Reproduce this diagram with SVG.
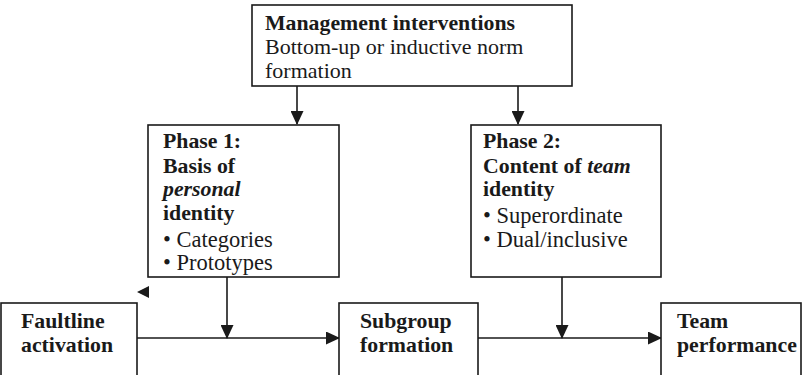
<svg xmlns="http://www.w3.org/2000/svg" width="803" height="375" viewBox="0 0 803 375">
<style>
.box{fill:#fff;stroke:#1a1a1a;stroke-width:1.6}
.t{font-family:"Liberation Serif","Times New Roman",serif;font-size:22.5px;fill:#1a1a1a}
.b{font-weight:bold;font-size:21.8px}
.i{font-style:italic}
.s{font-size:22px}
.c{stroke:#1a1a1a;stroke-width:1.6;fill:none}
</style>
<defs>
<marker id="ah" markerWidth="14" markerHeight="13" refX="13" refY="6.5" orient="auto" markerUnits="userSpaceOnUse">
<path d="M0,0 L14,6.5 L0,13 Z" fill="#1a1a1a"/>
</marker>
</defs>
<rect width="803" height="375" fill="#fff"/>
<g id="connectors">
<line class="c" x1="297" y1="86" x2="297" y2="124" marker-end="url(#ah)"/>
<line class="c" x1="518" y1="86" x2="518" y2="124" marker-end="url(#ah)"/>
<line class="c" x1="137" y1="338" x2="339" y2="338" marker-end="url(#ah)"/>
<line class="c" x1="478" y1="338" x2="661" y2="338" marker-end="url(#ah)"/>
<line class="c" x1="227" y1="277" x2="227" y2="338" marker-end="url(#ah)"/>
<line class="c" x1="562" y1="277" x2="562" y2="338" marker-end="url(#ah)"/>
<path d="M137,292 L149,286 L149,298 Z" fill="#1a1a1a"/>
</g>
<g id="mgmt">
<rect class="box" x="252" y="5" width="320" height="81"/>
<text class="t b" x="265" y="30">Management interventions</text>
<text class="t s" x="265" y="54">Bottom-up or inductive norm</text>
<text class="t s" x="265" y="78">formation</text>
</g>
<g id="phase1">
<rect class="box" x="148" y="125" width="191" height="152"/>
<text class="t b" x="163" y="148">Phase 1:</text>
<text class="t b" x="163" y="173">Basis of</text>
<text class="t b i" x="163" y="196">personal</text>
<text class="t b" x="163" y="220">identity</text>
<text class="t" x="163" y="247">• Categories</text>
<text class="t" x="163" y="270">• Prototypes</text>
</g>
<g id="phase2">
<rect class="box" x="471" y="125" width="190" height="152"/>
<text class="t b" x="483" y="148">Phase 2:</text>
<text class="t b" x="483" y="173">Content of <tspan class="i">team</tspan></text>
<text class="t b" x="483" y="196">identity</text>
<text class="t" x="483" y="223">• Superordinate</text>
<text class="t" x="483" y="247">• Dual/inclusive</text>
</g>
<g id="faultline">
<rect class="box" x="1" y="303" width="136" height="80"/>
<text class="t b" x="21" y="328">Faultline</text>
<text class="t b" x="21" y="352">activation</text>
</g>
<g id="subgroup">
<rect class="box" x="339" y="303" width="139" height="80"/>
<text class="t b" x="360" y="328">Subgroup</text>
<text class="t b" x="360" y="352">formation</text>
</g>
<g id="team">
<rect class="box" x="661" y="303" width="140" height="80"/>
<text class="t b" x="677" y="328">Team</text>
<text class="t b" x="677" y="352">performance</text>
</g>
</svg>
